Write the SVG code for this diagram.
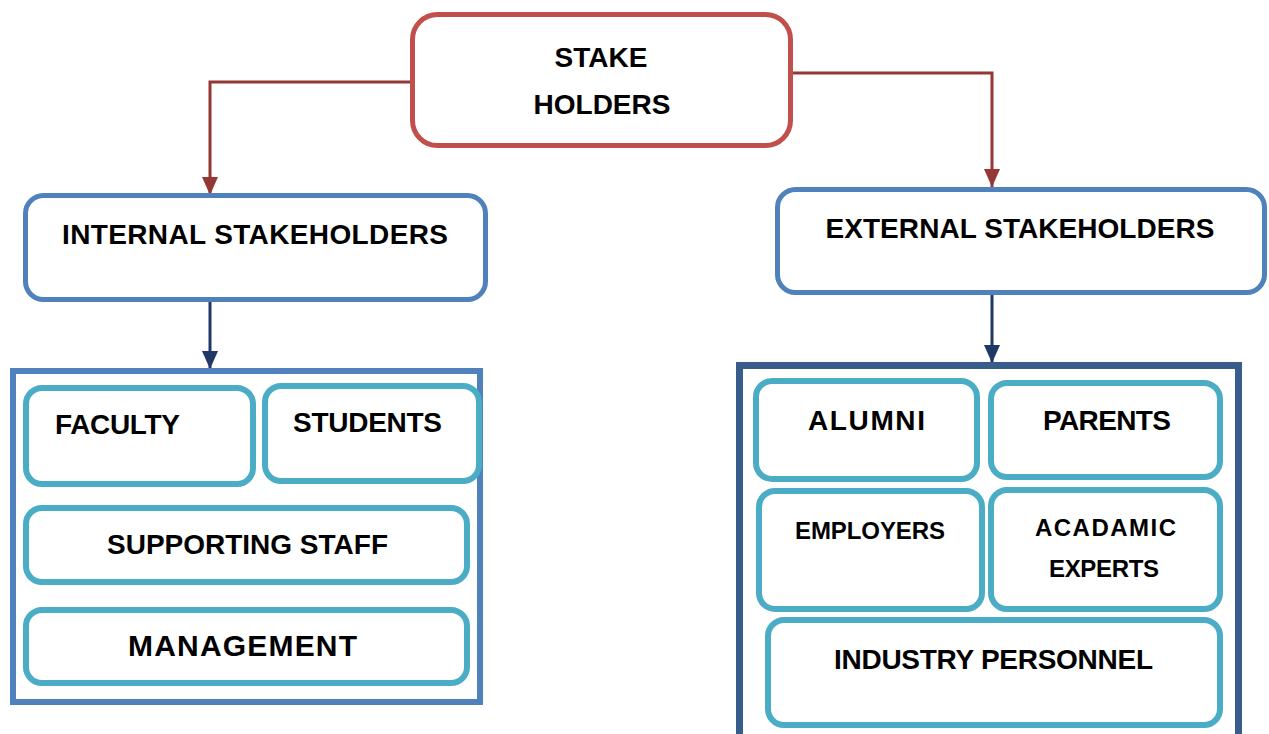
<svg xmlns="http://www.w3.org/2000/svg" width="1269" height="734" viewBox="0 0 1269 734">
<defs>
<marker id="ar" viewBox="0 0 18 16" refX="18" refY="8" markerWidth="18" markerHeight="16" markerUnits="userSpaceOnUse" orient="auto"><path d="M0,0 L18,8 L0,16 z" fill="#953735"/></marker>
<marker id="an" viewBox="0 0 18 16" refX="18" refY="8" markerWidth="18" markerHeight="16" markerUnits="userSpaceOnUse" orient="auto"><path d="M0,0 L18,8 L0,16 z" fill="#1f3864"/></marker>
<style>
text{font-family:"Liberation Sans",Arial,sans-serif;font-weight:bold;fill:#000;text-anchor:middle;font-size:28px}
.top{fill:#fff;stroke:#c0504d;stroke-width:5}
.mid{fill:#fff;stroke:#4f81bd;stroke-width:5}
.cont{fill:#fff;stroke:#4f81bd;stroke-width:6}
.cont2{fill:#fff;stroke:#385d8a;stroke-width:7}
.leaf{fill:#fff;stroke:#4bacc6;stroke-width:6}
.red{fill:none;stroke:#953735;stroke-width:3}
.navy{fill:none;stroke:#1f3864;stroke-width:3}
.s24{font-size:24px}
</style>
</defs>
<rect width="1269" height="734" fill="#fff"/>
<g id="connectors">
<path class="red" d="M410 82 H210 V195" marker-end="url(#ar)"/>
<path class="red" d="M793 73 H992 V187" marker-end="url(#ar)"/>
<path class="navy" d="M210 302 V369" marker-end="url(#an)"/>
<path class="navy" d="M992 295 V363" marker-end="url(#an)"/>
</g>
<g id="stakeholders">
<rect class="top" x="412.5" y="14.5" width="378" height="131" rx="25"/>
<text x="601" y="67">STAKE</text>
<text x="602" y="114">HOLDERS</text>
</g>
<g id="internal">
<rect class="mid" x="25.5" y="195.5" width="460" height="104" rx="18"/>
<text x="255" y="244" textLength="386">INTERNAL STAKEHOLDERS</text>
</g>
<g id="external">
<rect class="mid" x="777.5" y="189.5" width="487" height="103" rx="18"/>
<text x="1020" y="238" textLength="389">EXTERNAL STAKEHOLDERS</text>
</g>
<g id="internal-group">
<rect class="cont" x="13" y="371" width="467" height="331"/>
</g>
<g id="faculty">
<rect class="leaf" x="26" y="388" width="227" height="96" rx="16"/>
<text x="117.5" y="434" textLength="125">FACULTY</text>
</g>
<g id="students">
<rect class="leaf" x="265" y="386" width="214" height="95" rx="16"/>
<text x="367.5" y="432" textLength="149">STUDENTS</text>
</g>
<g id="supporting-staff">
<rect class="leaf" x="26" y="508" width="441" height="74" rx="16"/>
<text x="247.5" y="554" textLength="281">SUPPORTING STAFF</text>
</g>
<g id="management">
<rect class="leaf" x="26" y="610" width="441" height="73" rx="16"/>
<text x="242.5" y="656" style="font-size:30px" textLength="229">MANAGEMENT</text>
</g>
<g id="external-group">
<rect class="cont2" x="739.5" y="365.5" width="499" height="400"/>
</g>
<g id="alumni">
<rect class="leaf" x="756" y="381" width="221" height="98" rx="16"/>
<text x="866.5" y="430" textLength="117">ALUMNI</text>
</g>
<g id="parents">
<rect class="leaf" x="991" y="383" width="229" height="94" rx="16"/>
<text x="1107" y="430" textLength="128">PARENTS</text>
</g>
<g id="employers">
<rect class="leaf" x="759" y="491" width="223" height="118" rx="16"/>
<text class="s24" x="870" y="538.5" textLength="150">EMPLOYERS</text>
</g>
<g id="academic-experts">
<rect class="leaf" x="991" y="490" width="229" height="119" rx="16"/>
<text class="s24" x="1105.5" y="535.5" textLength="141">ACADAMIC</text>
<text class="s24" x="1104" y="576.5" textLength="110">EXPERTS</text>
</g>
<g id="industry-personnel">
<rect class="leaf" x="768" y="620" width="452" height="105" rx="16"/>
<text x="993.5" y="669" textLength="319">INDUSTRY PERSONNEL</text>
</g>
</svg>
